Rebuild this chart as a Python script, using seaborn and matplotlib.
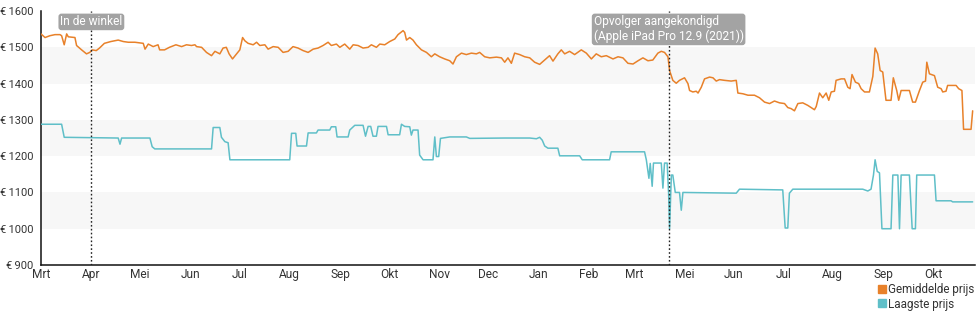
import matplotlib
matplotlib.use("Agg")
import matplotlib.pyplot as plt
from matplotlib.lines import Line2D
from matplotlib.ticker import FixedLocator, MultipleLocator, FuncFormatter
import numpy as np
import pandas as pd
import seaborn as sns

# Price history, days counted from 1 March 2020
start_date = pd.Timestamp("2020-03-01")

avg_day = [0, 2.5, 5.5, 8.6, 11.7, 12.7, 14.3, 15.8, 16.8, 20.9, 21.9, 25, 28, 30, 31.5, 34, 36, 39, 43, 47.5,
           50.6, 53.7, 57.8, 62.9, 64, 66, 69, 72, 73, 76, 79, 83, 86.5, 89.5, 92.6, 94.7,
           95.7, 98.8, 101.8, 104.9, 107, 110, 112, 114, 115.7, 117.8, 120.3, 122.3, 124, 125.4, 127.4,
           130.5, 132.6, 134.6, 137.7, 139.7, 142.8, 145.9, 148.9, 152, 155, 158.1, 161.2, 164.3, 167.4,
           170.4, 173.5, 176.6, 178.6, 181.7, 183.8, 186.8, 189.9,
           192, 195, 198.1, 201.2, 203.2, 206.3, 208.4, 211.4, 214.5, 217.6, 219.6, 222.7, 223.7, 224.8,
           226.8, 228.8, 230.9, 234, 237.1, 240.1, 242.2, 245.2, 248.3, 251.4, 253.4, 255.5, 258.6, 261.6,
           264.7, 267.8, 269.8, 272.9, 276, 280.1, 283.2, 285.2,
           287.2, 289.3, 291.3, 294.4, 297.5, 300.6, 303.6, 306.7, 309.8, 312.8, 314.9, 317.9, 320, 322.1,
           325.1, 328.2, 332.3, 335.4, 338.5, 341.5, 344.6, 347.7, 351.8, 354.9, 357.9, 361, 364.1, 367.2,
           370.2, 373.3, 376.3,
           379.4, 381.5, 383.5, 385.6, 386.6, 388.6, 390.7, 392.7, 395.8, 397.9, 398.9, 400.9, 403, 404.1,
           406.1, 408.1, 411.2, 413.3, 415.3, 417.3, 420.4, 424.5, 427.6, 428.6, 431.7, 434.8, 438.8, 441.9,
           445, 448.1, 451.1, 454.2, 457.3, 459.3, 461.4, 463.4, 465.5, 468.5, 471.6, 473.7, 475.7,
           476.8, 478.8, 480.8, 482.9, 484.5, 486, 488, 489, 492.1, 494.2, 496.2, 497.6, 498.8, 500.9, 502.9,
           504.4, 506.5, 509.5, 511.6, 513, 514.6, 516.1, 517.7, 519.7, 522.8, 524.2, 526.3, 527.5, 529,
           534.1, 536.1, 537.8, 540.3, 542.3, 544, 544.8, 546.4, 549.5, 551.5, 553.6, 554.6, 556.6, 557.6,
           562.8, 564.4, 566.4, 567.4, 572, 573]
avg_price = [1537, 1527, 1532, 1535, 1535, 1532, 1507, 1537, 1529, 1527, 1505, 1493, 1482, 1486, 1493, 1491, 1498,
             1511, 1516, 1520, 1516, 1514, 1514, 1511, 1495, 1509, 1502, 1507, 1493, 1493, 1500, 1507, 1502,
             1507, 1505, 1507,
             1502, 1500, 1486, 1477, 1489, 1482, 1498, 1500, 1482, 1468, 1482, 1493, 1527, 1518, 1511,
             1507, 1514, 1505, 1507, 1495, 1502, 1500, 1486, 1489, 1502, 1498, 1491, 1486, 1495,
             1498, 1505, 1514, 1505, 1509, 1500, 1509, 1495,
             1507, 1505, 1498, 1500, 1507, 1500, 1509, 1507, 1516, 1523, 1535, 1546, 1541, 1520,
             1527, 1520, 1507, 1493, 1486, 1474, 1482, 1474, 1468, 1463, 1454, 1474, 1484, 1480,
             1484, 1482, 1486, 1474, 1471, 1473, 1471, 1459,
             1471, 1456, 1484, 1480, 1474, 1471, 1459, 1453, 1465, 1477, 1462, 1482, 1493, 1482,
             1489, 1480, 1493, 1484, 1468, 1482, 1474, 1477, 1468, 1474, 1471, 1456, 1454, 1463,
             1471, 1463, 1465,
             1484, 1489, 1486, 1474, 1436, 1409, 1401, 1409, 1416, 1400, 1381, 1377, 1379, 1374,
             1390, 1413, 1418, 1416, 1407, 1411, 1409, 1407, 1409, 1374, 1372, 1368, 1368, 1361,
             1349, 1345, 1352, 1347, 1345, 1334, 1331, 1325, 1345, 1347, 1340, 1334, 1328,
             1337, 1374, 1361, 1374, 1354, 1377, 1379, 1409, 1413, 1413, 1390, 1386, 1425, 1404, 1400,
             1386, 1377, 1377, 1420, 1498, 1482, 1436, 1432, 1354, 1354, 1416, 1381, 1354, 1381,
             1381, 1349, 1349, 1381, 1404, 1407, 1459, 1427, 1422, 1390, 1386, 1377, 1379, 1395,
             1395, 1386, 1381, 1274, 1274, 1325]

low_day = [0, 12.7, 14.3, 47.5, 48.6, 49.6, 67, 68.4, 70, 104.9, 105.9, 110, 111, 113.1, 115.1, 116.2, 153,
           154.1, 156.7, 157.5, 163.3, 164.3, 169.4, 170.4, 177.6, 178.6, 181.3, 182.1, 188.9, 189.9, 193,
           198.1, 199.6, 201.2, 202.8, 204.2, 206.3, 207.3, 212.5, 213.5, 220.6, 221.7, 223.7, 226.8, 227.8,
           228.8, 231.9, 232.9, 235, 241.1, 242.2, 243.2, 244.6, 245.7, 251.4, 261.6, 263.7, 285.2, 300.6,
           304.7, 306.7, 308.3, 309.8, 311.8, 317.9, 319, 331.3, 332.9, 349.7, 350.7, 371.2, 372.3, 373.9,
           374.7, 375.9, 376.7, 381.5, 382.5, 383.5, 385.1, 386, 386.6, 387.7, 388.6, 390.1, 392.7, 393.8,
           394.8, 427.6, 429.6, 456.2, 457.7, 459.3, 460.3, 462.4, 505.4, 508.5, 510.5, 512, 513, 514.3,
           515.7, 517.2, 522.8, 523.9, 527, 528, 529, 534.1, 535.8, 537.8, 538.6, 549.5, 550.5, 559.7,
           560.7, 573]
low_price = [1288, 1288, 1252, 1250, 1233, 1250, 1250, 1226, 1220, 1220, 1279, 1279, 1252, 1240, 1237, 1190, 1190,
             1263, 1263, 1228, 1228, 1264, 1264, 1272, 1272, 1281, 1281, 1253, 1253, 1272, 1285,
             1285, 1255, 1282, 1282, 1255, 1255, 1282, 1282, 1259, 1259, 1288, 1282, 1281, 1258,
             1272, 1272, 1203, 1190, 1190, 1253, 1199, 1199, 1249, 1253, 1253, 1249, 1250, 1250,
             1248, 1252, 1244, 1228, 1222, 1222, 1201, 1201, 1190, 1190, 1212, 1212, 1190, 1139,
             1180, 1117, 1181, 1181, 1112, 1181, 1181, 1098, 1000, 1148, 1148, 1100, 1100, 1051,
             1100, 1098, 1109, 1107, 1002, 1002, 1098, 1109, 1109, 1104, 1109, 1148, 1190, 1158,
             1154, 1000, 1000, 1148, 1148, 1000, 1148, 1148, 1000, 1000, 1148, 1148, 1077, 1077,
             1074, 1074]

series_names = ["Gemiddelde prijs", "Laagste prijs"]
series_colors = ["#e8812a", "#5fbfc8"]

tick_months = pd.date_range("2020-03-01", "2021-09-01", freq="MS")
tick_labels = ["Mrt", "Apr", "Mei", "Jun", "Jul", "Aug", "Sep", "Okt", "Nov", "Dec", "Jan", "Feb",
               "Mrt", "Mei", "Jun", "Jul", "Aug", "Sep", "Okt"]

event_days = [31, 386]
event_labels = ["In de winkel", "Opvolger aangekondigd\n(Apple iPad Pro 12.9 (2021))"]

y_ticks = [900, 1000, 1100, 1200, 1300, 1400, 1500, 1600]
bands = [(1400, 1500), (1200, 1300), (1000, 1100)]

# ---------------------------------------------------------------------------
sns.set_theme(style="white")
plt.rcParams["font.family"] = ["Roboto", "DejaVu Sans"]
text_color = "#333333"

df = pd.concat([
    pd.DataFrame({"day": avg_day, "price": avg_price, "series": series_names[0]}),
    pd.DataFrame({"day": low_day, "price": low_price, "series": series_names[1]}),
])

fig = plt.figure(figsize=(9.8, 3.25), dpi=100)
ax = fig.add_axes([0.0418, 0.1846, 0.9532, 0.7814])

for lo, hi in bands:
    ax.axhspan(lo, hi, color="#f7f7f7", zorder=0, lw=0)

sns.lineplot(data=df, x="day", y="price", hue="series", palette=series_colors,
             hue_order=series_names, estimator=None, sort=False, linewidth=1.1,
             legend=False, ax=ax, zorder=3)

for d, lab in zip(event_days, event_labels):
    ax.axvline(d, color="#222222", lw=1.0, ls=(0, (1.2, 1.6)), zorder=4)
    ax.text(d, 1588, lab, ha="center", va="top", multialignment="left",
            color="white", fontsize=8.6, linespacing=1.15, zorder=5,
            bbox=dict(boxstyle="round,pad=0.15,rounding_size=0.25", fc="#a3a3a3", ec="none"))

ax.set_xlim(0, 574.5)
ax.set_ylim(900, 1600)
ax.set_xlabel("")
ax.set_ylabel("")

tick_pos = [(m - start_date).days for m in tick_months]
ax.xaxis.set_major_locator(FixedLocator(tick_pos))
ax.set_xticklabels(tick_labels)
ax.xaxis.set_minor_locator(MultipleLocator(1))
ax.set_yticks(y_ticks)
ax.yaxis.set_major_formatter(FuncFormatter(lambda v, p: f"€\u2009{int(v)}"))

for s in ["top", "right"]:
    ax.spines[s].set_visible(False)
for s in ["left", "bottom"]:
    ax.spines[s].set_color("#111111")
    ax.spines[s].set_linewidth(1.1)

ax.tick_params(axis="y", which="major", direction="out", length=5, width=1, color="#111111",
               labelsize=8.0, labelcolor=text_color, pad=0.5)
ax.tick_params(axis="x", which="major", direction="inout", length=6, width=1, color="#111111",
               labelsize=8.6, labelcolor=text_color, pad=-1)
ax.tick_params(axis="x", which="minor", direction="out", length=2, width=0.4, color="#999999")

handles = [Line2D([], [], marker="s", ls="none", color=c, markersize=5.5) for c in series_colors]
fig.legend(handles, series_names, loc="upper right", bbox_to_anchor=(0.994, 0.128),
           frameon=False, fontsize=8.4, handlelength=0.6, handletextpad=0.2,
           labelspacing=0.1, borderpad=0, borderaxespad=0, labelcolor=text_color)

fig.savefig("out.png", dpi=100)
